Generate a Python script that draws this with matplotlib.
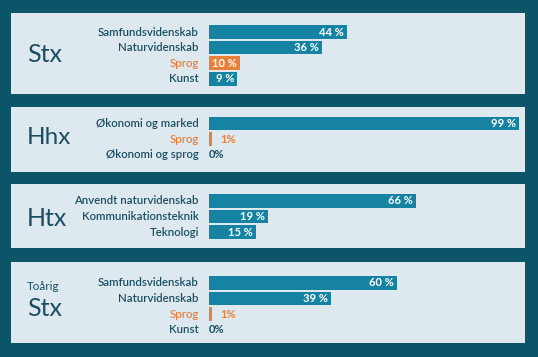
import matplotlib.pyplot as plt

plt.rcParams['font.family'] = ['Lato', 'DejaVu Sans']

# data
stx_cats = ["Samfundsvidenskab", "Naturvidenskab", "Sprog", "Kunst"]
stx_vals = [44, 36, 10, 9]
hhx_cats = ["Økonomi og marked", "Sprog", "Økonomi og sprog"]
hhx_vals = [99, 1, 0]
htx_cats = ["Anvendt naturvidenskab", "Kommunikationsteknik", "Teknologi"]
htx_vals = [66, 19, 15]
toaarig_cats = ["Samfundsvidenskab", "Naturvidenskab", "Sprog", "Kunst"]
toaarig_vals = [60, 39, 1, 0]

BG = "#0c5468"
PANEL = "#dde9ef"
TEAL = "#1783a3"
ORANGE = "#e8803c"
DARK = "#1a4e62"

W, H = 538, 357
X0, X1 = 11, 525       # panel left/right in px
BAR0 = 209             # px where 0 % sits
PX = 3.13              # px per percent
ROW = 15.6             # px per row

fig = plt.figure(figsize=(W / 100, H / 100), dpi=100, facecolor=BG)

# (top, bottom, first row centre) in px
panels = [
    (stx_cats, stx_vals, 12.7, 94.3, 32),
    (hhx_cats, hhx_vals, 107, 172, 123.5),
    (htx_cats, htx_vals, 184, 248, 201),
    (toaarig_cats, toaarig_vals, 262, 343, 283),
]

for cats, vals, top, bot, r0 in panels:
    ax = fig.add_axes([X0 / W, 1 - bot / H, (X1 - X0) / W, (bot - top) / H])
    ax.set_facecolor(PANEL)
    ax.set_xlim(-(BAR0 - X0) / PX, (X1 - BAR0) / PX)
    ax.set_ylim((bot - r0) / ROW, -(r0 - top) / ROW)
    for s in ax.spines.values():
        s.set_visible(False)
    ax.set_xticks([])
    ax.set_yticks([])

    colors = [ORANGE if c == "Sprog" else TEAL for c in cats]
    ys = list(range(len(cats)))
    ax.barh(ys, vals, height=0.88, color=colors)
    for y, c, v, col in zip(ys, cats, vals, colors):
        ax.text(-3.2, y, c, ha='right', va='center', fontsize=8.2,
                fontweight='semibold', color=ORANGE if c == "Sprog" else DARK)
        if v >= 5:
            ax.text(v - 1, y, f"{v} %", ha='right', va='center', fontsize=8,
                    fontweight='bold', color='white')
        elif v == 0:
            ax.text(0, y, f"{v}%", ha='left', va='center', fontsize=8,
                    fontweight='bold', color=DARK)
        else:
            ax.text(v + 2.5, y, f"{v}%", ha='left', va='center', fontsize=8,
                    fontweight='bold', color=col)

# big labels
fig.text(27 / W, 1 - 62 / H, "Stx", fontsize=18, color=DARK, va='baseline')
fig.text(27 / W, 1 - 143.5 / H, "Hhx", fontsize=17.5, color=DARK, va='baseline')
fig.text(27 / W, 1 - 226 / H, "Htx", fontsize=18, color=DARK, va='baseline')
fig.text(27 / W, 1 - 290 / H, "Toårig", fontsize=8.4, color=DARK, va='baseline')
fig.text(27 / W, 1 - 316.5 / H, "Stx", fontsize=18, color=DARK, va='baseline')

fig.savefig("out.png", dpi=100, facecolor=BG)
